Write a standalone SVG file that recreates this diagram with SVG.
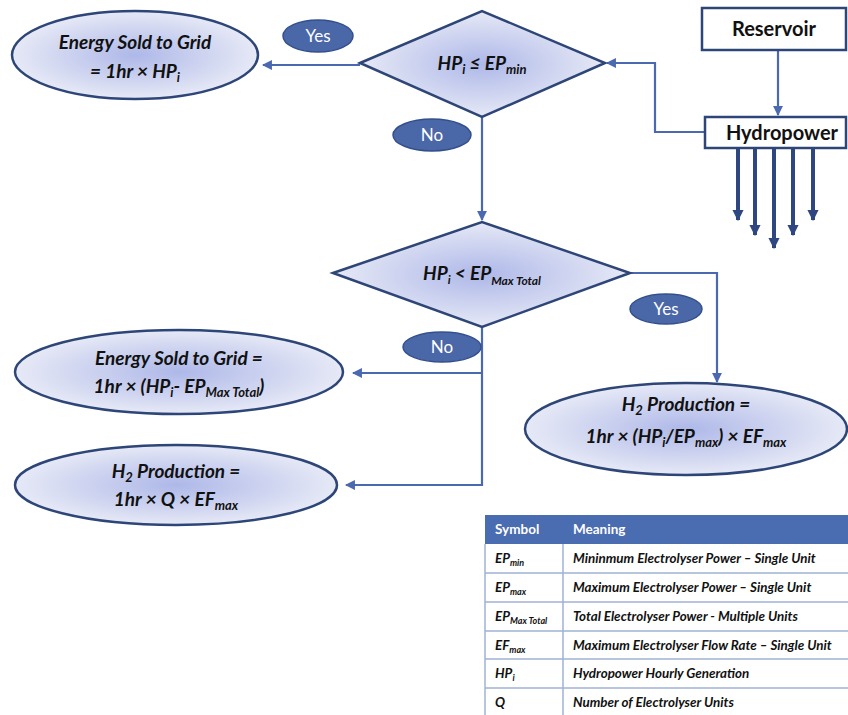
<svg xmlns="http://www.w3.org/2000/svg" width="848" height="715" viewBox="0 0 848 715">
<defs>
<radialGradient id="g" cx="50%" cy="50%" r="50%">
<stop offset="0" stop-color="#aeb8e8"/>
<stop offset="1" stop-color="#e6e9f6"/>
</radialGradient>
<marker id="a" viewBox="0 0 10 10" refX="9" refY="5" markerWidth="4.5" markerHeight="4.5" orient="auto" markerUnits="strokeWidth">
<path d="M0,0 L10,5 L0,10 z" fill="#4a69b0"/>
</marker>
<marker id="b" viewBox="0 0 10 10" refX="9" refY="5" markerWidth="2.8" markerHeight="2.8" orient="auto" markerUnits="strokeWidth">
<path d="M0,0 L10,5 L0,10 z" fill="#2f4780"/>
</marker>
</defs>
<style>
.n{fill:url(#g);stroke:#2e4677;stroke-width:2.5}
.t{font-family:Lato,"Open Sans",sans-serif;font-weight:bold;font-style:italic;fill:#111;text-anchor:middle;font-size:19px}
.s{font-size:13px}
.box{fill:#fff;stroke:#2e4677;stroke-width:2.5}
.bt{font-family:Lato,"Open Sans",sans-serif;font-weight:bold;fill:#111;text-anchor:middle;font-size:20px}
.pill{fill:#4a67a8;stroke:#33508c;stroke-width:1.5}
.pt{font-family:Lato,"Open Sans",sans-serif;fill:#fff;text-anchor:middle;font-size:17px}
.c{fill:none;stroke:#4a69b0;stroke-width:2.2}
.h{fill:none;stroke:#2f4780;stroke-width:4}
.tb{font-family:Lato,"Open Sans",sans-serif;font-weight:bold;font-style:italic;fill:#111;font-size:13.4px}
.th{font-family:Lato,"Open Sans",sans-serif;font-weight:bold;fill:#fff;font-size:13.5px}
.rl{stroke:#9fb2d6;stroke-width:1.5}
</style>
<g id="connectors">
<path class="c" d="M360,65 L263,65" marker-end="url(#a)"/>
<path class="c" d="M705,132 L655,132 L655,63 L607,63" marker-end="url(#a)"/>
<path class="c" d="M778,50 L778,115" marker-end="url(#a)"/>
<path class="c" d="M482,117 L482,220" marker-end="url(#a)"/>
<path class="c" d="M630,273 L717,273 L717,382" marker-end="url(#a)"/>
<path class="c" d="M482,327 L482,485 L346,485" marker-end="url(#a)"/>
<path class="c" d="M482,373 L353,373" marker-end="url(#a)"/>
<path class="h" d="M738,148 L738,220" marker-end="url(#b)"/>
<path class="h" d="M755,148 L755,235" marker-end="url(#b)"/>
<path class="h" d="M774,148 L774,248" marker-end="url(#b)"/>
<path class="h" d="M793,148 L793,235" marker-end="url(#b)"/>
<path class="h" d="M813,148 L813,220" marker-end="url(#b)"/>
</g>
<g id="reservoir">
<rect class="box" x="702" y="8" width="144" height="42"/>
<text class="bt" x="774" y="36">Reservoir</text>
</g>
<g id="hydropower">
<rect class="box" x="705" y="117" width="141" height="31"/>
<text class="bt" x="782" y="140">Hydropower</text>
</g>
<g id="decision1">
<polygon class="n" points="360,63 482,11 605,63 482,117"/>
<text class="t" x="482" y="70" font-size="18">HP<tspan dy="4" class="s">i</tspan><tspan dy="-4"> ≤ EP</tspan><tspan dy="4" class="s">min</tspan></text>
</g>
<g id="sold1">
<ellipse class="n" cx="135" cy="55" rx="123" ry="44"/>
<text class="t" x="135" y="49">Energy Sold to Grid</text>
<text class="t" x="135" y="78">= 1hr × HP<tspan dy="4" class="s">i</tspan></text>
</g>
<g id="yes1">
<ellipse class="pill" cx="318" cy="36" rx="35" ry="16"/>
<text class="pt" x="318" y="42">Yes</text>
</g>
<g id="no1">
<ellipse class="pill" cx="432" cy="135" rx="39" ry="16"/>
<text class="pt" x="432" y="141">No</text>
</g>
<g id="decision2">
<polygon class="n" points="333,273 482,222 630,273 482,327"/>
<text class="t" x="482" y="280" font-size="18">HP<tspan dy="4" font-size="12">i</tspan><tspan dy="-4"> &lt; EP</tspan><tspan dy="5" font-size="12">Max Total</tspan></text>
</g>
<g id="yes2">
<ellipse class="pill" cx="666" cy="309" rx="36" ry="15"/>
<text class="pt" x="666" y="315">Yes</text>
</g>
<g id="no2">
<ellipse class="pill" cx="442" cy="347" rx="39" ry="15"/>
<text class="pt" x="442" y="353">No</text>
</g>
<g id="sold2">
<ellipse class="n" cx="179" cy="372" rx="164" ry="42"/>
<text class="t" x="179" y="365">Energy Sold to Grid =</text>
<text class="t" x="179" y="393">1hr × (HP<tspan dy="4" class="s">i</tspan><tspan dy="-4">- EP</tspan><tspan dy="4" class="s">Max Total</tspan><tspan dy="-4">)</tspan></text>
</g>
<g id="h2q">
<ellipse class="n" cx="176" cy="485" rx="161" ry="40"/>
<text class="t" x="176" y="478">H<tspan dy="4" class="s">2</tspan><tspan dy="-4"> Production =</tspan></text>
<text class="t" x="176" y="506">1hr × Q × EF<tspan dy="4" class="s">max</tspan></text>
</g>
<g id="h2ratio">
<ellipse class="n" cx="686" cy="429" rx="161" ry="46"/>
<text class="t" x="686" y="411">H<tspan dy="4" class="s">2</tspan><tspan dy="-4"> Production =</tspan></text>
<text class="t" x="686" y="443">1hr × (HP<tspan dy="4" class="s">i</tspan><tspan dy="-4">/EP</tspan><tspan dy="4" class="s">max</tspan><tspan dy="-4">) × EF</tspan><tspan dy="4" class="s">max</tspan></text>
</g>
<g id="legend">
<rect x="485" y="515" width="363" height="29" fill="#4a6cb0"/>
<text class="th" x="495" y="534">Symbol</text>
<text class="th" x="573" y="534">Meaning</text>
<line class="rl" x1="485" y1="544" x2="485" y2="715"/>
<line class="rl" x1="563" y1="544" x2="563" y2="715"/>
<line class="rl" x1="485" y1="573" x2="848" y2="573"/>
<line class="rl" x1="485" y1="602" x2="848" y2="602"/>
<line class="rl" x1="485" y1="631" x2="848" y2="631"/>
<line class="rl" x1="485" y1="659" x2="848" y2="659"/>
<line class="rl" x1="485" y1="688" x2="848" y2="688"/>
<text class="tb" x="495" y="563">EP<tspan dy="3" font-size="9">min</tspan></text>
<text class="tb" x="573" y="563">Mininmum Electrolyser Power – Single Unit</text>
<text class="tb" x="495" y="592">EP<tspan dy="3" font-size="9">max</tspan></text>
<text class="tb" x="573" y="592">Maximum Electrolyser Power – Single Unit</text>
<text class="tb" x="495" y="621">EP<tspan dy="3" font-size="9">Max Total</tspan></text>
<text class="tb" x="573" y="621">Total Electrolyser Power  - Multiple Units</text>
<text class="tb" x="495" y="650">EF<tspan dy="3" font-size="9">max</tspan></text>
<text class="tb" x="573" y="650">Maximum Electrolyser Flow Rate – Single Unit</text>
<text class="tb" x="495" y="678">HP<tspan dy="3" font-size="9">i</tspan></text>
<text class="tb" x="573" y="678">Hydropower Hourly Generation</text>
<text class="tb" x="495" y="707">Q</text>
<text class="tb" x="573" y="707">Number of Electrolyser Units</text>
</g>
</svg>
